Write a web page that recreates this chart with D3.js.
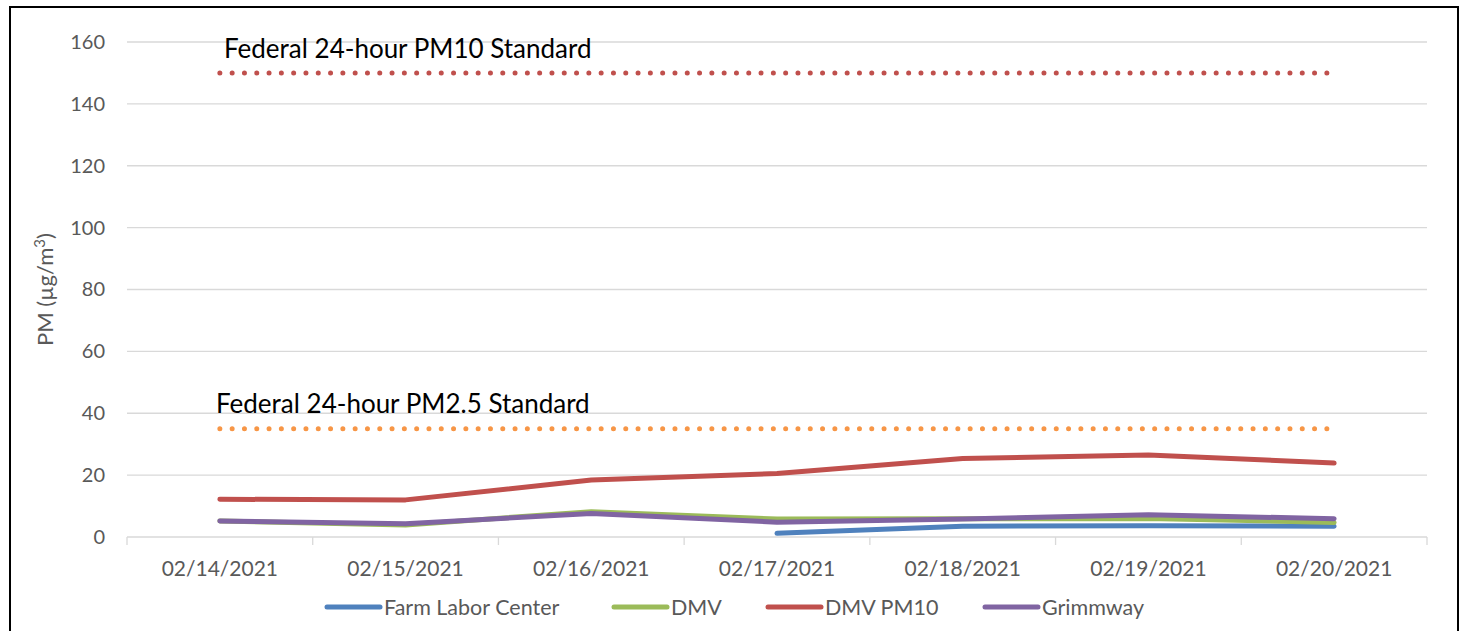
<!DOCTYPE html>
<html>
<head>
<meta charset="utf-8">
<script src="https://cdn.jsdelivr.net/npm/d3@7"></script>
<style>
  body { margin: 0; background: #fff; }
  svg { display: block; font-family: Lato, "Open Sans", sans-serif; }
</style>
</head>
<body>
<div id="chart"></div>
<script>
const dates = ['02/14/2021', '02/15/2021', '02/16/2021', '02/17/2021', '02/18/2021', '02/19/2021', '02/20/2021'];
const farmLabor = [null, null, null, 1.2, 3.5, 3.6, 3.5];
const dmv = [5.2, 3.9, 8.2, 5.8, 5.9, 6.0, 4.7];
const dmvPm10 = [12.2, 12.0, 18.4, 20.5, 25.4, 26.5, 23.9];
const grimmway = [5.2, 4.3, 7.6, 4.8, 5.8, 7.2, 5.9];
const yTicks = [0, 20, 40, 60, 80, 100, 120, 140, 160];
const pm10Standard = 150;
const pm25Standard = 35;

const series = [
  { name: 'Farm Labor Center', values: farmLabor, color: '#4F81BD' },
  { name: 'DMV', values: dmv, color: '#9BBB59' },
  { name: 'DMV PM10', values: dmvPm10, color: '#C0504D' },
  { name: 'Grimmway', values: grimmway, color: '#8064A2' }
];

const width = 1465, height = 631;
const margin = { left: 127, right: 38, top: 42, bottom: 94 };

const svg = d3.select('#chart').append('svg')
  .attr('width', width)
  .attr('height', height);

// outer frame
svg.append('rect')
  .attr('x', 10).attr('y', 7)
  .attr('width', 1448).attr('height', 640)
  .attr('fill', 'none')
  .attr('stroke', '#000')
  .attr('stroke-width', 2);

const x = d3.scaleBand()
  .domain(dates)
  .range([margin.left, width - margin.right]);

const y = d3.scaleLinear()
  .domain([0, 160])
  .range([height - margin.bottom, margin.top]);

const cx = d => x(d) + x.bandwidth() / 2;

// gridlines
svg.append('g')
  .selectAll('line')
  .data(yTicks.filter(t => t > 0))
  .join('line')
  .attr('x1', margin.left).attr('x2', width - margin.right)
  .attr('y1', d => y(d)).attr('y2', d => y(d))
  .attr('stroke', '#d9d9d9')
  .attr('stroke-width', 1.3);

// y axis labels
const yAxis = svg.append('g')
  .attr('transform', `translate(${margin.left - 22},0)`)
  .call(d3.axisLeft(y).tickValues(yTicks).tickSize(0).tickPadding(0));
yAxis.select('.domain').remove();
yAxis.selectAll('text')
  .attr('font-family', 'Lato, sans-serif')
  .attr('font-size', 20)
  .attr('fill', '#595959');

// x axis
const boundaries = dates.map(d => x(d)).concat([x.range()[1]]);
svg.append('line')
  .attr('x1', margin.left).attr('x2', width - margin.right)
  .attr('y1', y(0)).attr('y2', y(0))
  .attr('stroke', '#d9d9d9').attr('stroke-width', 1.3);
svg.append('g')
  .selectAll('line')
  .data(boundaries)
  .join('line')
  .attr('x1', d => d).attr('x2', d => d)
  .attr('y1', y(0)).attr('y2', y(0) + 8)
  .attr('stroke', '#d9d9d9').attr('stroke-width', 1.3);

svg.append('g')
  .selectAll('text')
  .data(dates)
  .join('text')
  .attr('x', d => cx(d))
  .attr('y', y(0) + 39)
  .attr('text-anchor', 'middle')
  .attr('font-size', 21)
  .attr('fill', '#595959')
  .text(d => d);

// y axis title
svg.append('text')
  .attr('transform', `translate(53,${(y(0) + y(160)) / 2}) rotate(-90)`)
  .attr('text-anchor', 'middle')
  .attr('font-size', 22)
  .attr('fill', '#595959')
  .html('PM (µg/m<tspan dy="-8" font-size="15">3</tspan><tspan dy="8">)</tspan>');

// standard lines
const standards = [
  { value: pm10Standard, color: '#C0504D', label: 'Federal 24-hour PM10 Standard', lx: 224, ly: 58 },
  { value: pm25Standard, color: '#F79646', label: 'Federal 24-hour PM2.5 Standard', lx: 216, ly: 413 }
];
standards.forEach(s => {
  svg.append('path')
    .datum(dates)
    .attr('d', d3.line().x(d => cx(d)).y(() => y(s.value)))
    .attr('fill', 'none')
    .attr('stroke', s.color)
    .attr('stroke-width', 5)
    .attr('stroke-linecap', 'round')
    .attr('stroke-dasharray', '0 12.3');
  svg.append('text')
    .attr('x', s.lx).attr('y', s.ly)
    .attr('font-size', 26)
    .attr('fill', '#000')
    .text(s.label);
});

// data lines
const line = d3.line()
  .defined(d => d.v != null)
  .x(d => cx(d.date))
  .y(d => y(d.v));

series.forEach(s => {
  svg.append('path')
    .datum(dates.map((d, i) => ({ date: d, v: s.values[i] })))
    .attr('d', line)
    .attr('fill', 'none')
    .attr('stroke', s.color)
    .attr('stroke-width', 5)
    .attr('stroke-linecap', 'round')
    .attr('stroke-linejoin', 'round');
});

// legend
const legendX = [325, 612, 766, 983];
const legend = svg.append('g')
  .selectAll('g')
  .data(series)
  .join('g')
  .attr('transform', (d, i) => `translate(${legendX[i]},607)`);
legend.append('line')
  .attr('x1', 2).attr('x2', 55)
  .attr('stroke', d => d.color)
  .attr('stroke-width', 5)
  .attr('stroke-linecap', 'round');
legend.append('text')
  .attr('x', 59)
  .attr('dy', '0.35em')
  .attr('font-size', 21.5)
  .attr('fill', '#595959')
  .text(d => d.name);
</script>
</body>
</html>
